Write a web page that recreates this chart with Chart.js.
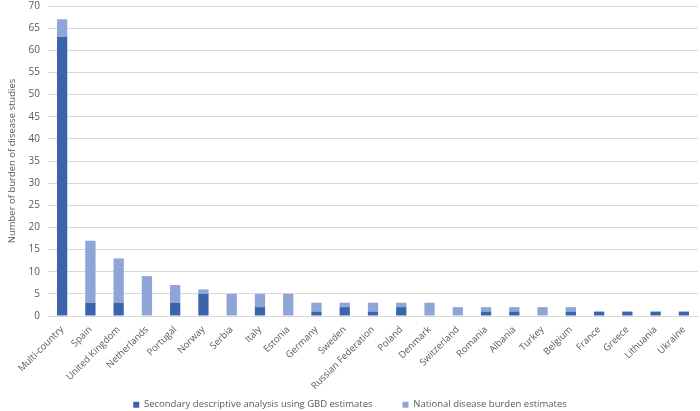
<!DOCTYPE html>
<html>
<head>
<meta charset="utf-8">
<script src="https://cdn.jsdelivr.net/npm/chart.js@4/dist/chart.umd.min.js"></script>
<style>
  html, body { margin: 0; padding: 0; background: #fff; }
  #wrap { width: 700px; height: 411px; position: relative; }
</style>
</head>
<body>
<div id="wrap"><canvas id="c"></canvas></div>
<script>
const countries = ['Multi-country', 'Spain', 'United Kingdom', 'Netherlands', 'Portugal', 'Norway', 'Serbia', 'Italy', 'Estonia', 'Germany', 'Sweden', 'Russian Federation', 'Poland', 'Denmark', 'Switzerland', 'Romania', 'Albania', 'Turkey', 'Belgium', 'France', 'Greece', 'Lithuania', 'Ukraine'];
const secondaryGBD = [63, 3, 3, 0, 3, 5, 0, 2, 0, 1, 2, 1, 2, 0, 0, 1, 1, 0, 1, 1, 1, 1, 1];
const nationalBurden = [4, 14, 10, 9, 4, 1, 5, 3, 5, 2, 1, 2, 1, 3, 2, 1, 1, 2, 1, 0, 0, 0, 0];

const FONT = "'Open Sans', 'Liberation Sans', sans-serif";
const TEXT = '#595959';

new Chart(document.getElementById('c'), {
  type: 'bar',
  data: {
    labels: countries,
    datasets: [
      { label: 'Secondary descriptive analysis using GBD estimates', data: secondaryGBD, backgroundColor: '#3b64ad', categoryPercentage: 0.7, barPercentage: 0.52 },
      { label: 'National disease burden estimates', data: nationalBurden, backgroundColor: '#8fa5d7', categoryPercentage: 0.7, barPercentage: 0.52 },
    ],
  },
  options: {
    responsive: true,
    maintainAspectRatio: false,
    animation: false,
    layout: { padding: { left: 2, right: 2, top: 0, bottom: 1 } },
    plugins: {
      legend: {
        position: 'bottom',
        labels: { boxWidth: 6, boxHeight: 6, padding: 30, color: TEXT, font: { family: FONT, size: 9.5 } },
      },
      tooltip: { enabled: false },
    },
    scales: {
      x: {
        stacked: true,
        grid: { display: false },
        border: { color: '#d9d9d9' },
        ticks: { color: TEXT, font: { family: FONT, size: 9.5 }, maxRotation: 45, minRotation: 45, autoSkip: false, padding: 0 },
        afterFit(scale) { scale.height = 78; },
      },
      y: {
        stacked: true,
        min: 0,
        max: 70,
        grid: { color: '#d9d9d9', drawTicks: true, tickLength: 8, tickColor: 'rgba(0,0,0,0)' },
        border: { display: false },
        ticks: { stepSize: 5, color: TEXT, font: { family: FONT, size: 10 }, padding: 0 },
        title: { display: true, text: 'Number of burden of disease studies', color: TEXT, font: { family: FONT, size: 9.5 }, padding: 5 },
        afterFit(scale) { scale.width = 46; },
      },
    },
  },
  plugins: [{
    // legend keeps a wide gap between items but only a thin strip at the bottom
    id: 'legendBox',
    beforeInit(chart) {
      const fit = chart.legend.fit;
      chart.legend.fit = function () {
        fit.call(this);
        this.height = 16;
      };
    },
    afterLayout(chart) {
      chart.legend.top -= 24;
    },
  }],
});
</script>
</body>
</html>
